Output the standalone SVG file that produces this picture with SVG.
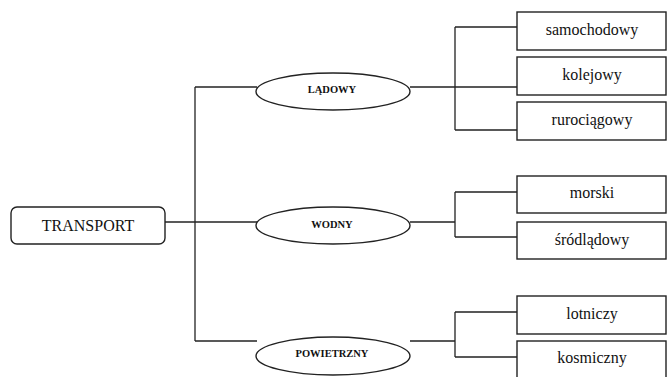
<svg xmlns="http://www.w3.org/2000/svg" width="667" height="377" viewBox="0 0 667 377">
<style>
.ln{fill:none;stroke:#222;stroke-width:1.3}
.bx{fill:#fff;stroke:#222;stroke-width:1.4}
text{font-family:'Liberation Serif','Times New Roman',Times,serif;fill:#111;text-anchor:middle}
.t{font-size:16px}
.e{font-size:10.5px;font-weight:bold}
</style>
<rect width="667" height="377" fill="#fff"/>
<g id="connectors">
<path class="ln" d="M165,222H257"/>
<path class="ln" d="M195,87V341"/>
<path class="ln" d="M195,87H257"/>
<path class="ln" d="M195,341H257"/>
<path class="ln" d="M410,87H517M455,27V130M455,27H517M455,130H517"/>
<path class="ln" d="M410,222H455M455,192V237M455,192H517M455,237H517"/>
<path class="ln" d="M410,341H455M455,312V357M455,312H517M455,357H517"/>
</g>
<g id="transport"><rect class="bx" x="11" y="207" width="154" height="37" rx="6"/><text class="t" x="88" y="231">TRANSPORT</text></g>
<g id="ladowy"><ellipse class="bx" cx="333" cy="91.5" rx="77" ry="18.5"/><text class="e" x="332" y="93">LĄDOWY</text></g>
<g id="wodny"><ellipse class="bx" cx="333" cy="225.5" rx="77" ry="18.5"/><text class="e" x="332" y="228">WODNY</text></g>
<g id="powietrzny"><ellipse class="bx" cx="333" cy="356" rx="77" ry="19"/><text class="e" x="332" y="357">POWIETRZNY</text></g>
<g id="samochodowy"><rect class="bx" x="517" y="12" width="149" height="38"/><text class="t" x="592" y="35">samochodowy</text></g>
<g id="kolejowy"><rect class="bx" x="517" y="57" width="149" height="38"/><text class="t" x="592" y="80">kolejowy</text></g>
<g id="rurociagowy"><rect class="bx" x="517" y="102" width="149" height="38"/><text class="t" x="592" y="125">rurociągowy</text></g>
<g id="morski"><rect class="bx" x="517" y="176" width="149" height="37"/><text class="t" x="592" y="198">morski</text></g>
<g id="srodladowy"><rect class="bx" x="517" y="222" width="149" height="37"/><text class="t" x="592" y="245">śródlądowy</text></g>
<g id="lotniczy"><rect class="bx" x="517" y="296" width="149" height="38"/><text class="t" x="592" y="319">lotniczy</text></g>
<g id="kosmiczny"><rect class="bx" x="517" y="341" width="149" height="40"/><text class="t" x="592" y="363">kosmiczny</text></g>
</svg>
